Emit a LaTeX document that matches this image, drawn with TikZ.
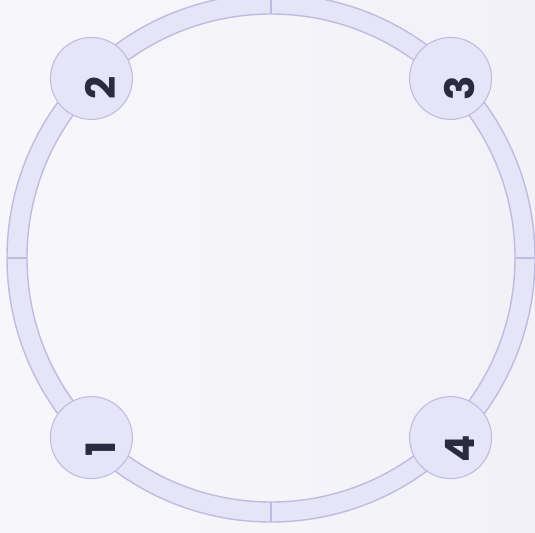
\documentclass[tikz,border=0pt]{standalone}
\usepackage{fontspec}
\setmainfont{Poppins}
\usepackage{tikz}
\definecolor{bgleft}{HTML}{F7F7FB}
\definecolor{bgright}{HTML}{F1F1F7}
\definecolor{ringfill}{HTML}{E6E4F7}
\definecolor{ringline}{HTML}{BFBBE2}
\definecolor{numcol}{HTML}{2B2A40}
\tikzset{
  hub/.style={circle,draw=ringline,fill=ringfill,line width=0.6pt,minimum size=82*0.02cm,inner sep=0pt},
  num/.style={text=numcol,font=\bfseries\fontsize{23}{23}\selectfont,rotate=90,inner sep=0pt}
}
\begin{document}
\begin{tikzpicture}[x=0.02cm,y=-0.02cm]
% background
\shade[left color=bgleft,right color=bgright] (0,0) rectangle (535,532);
\useasboundingbox (0,0) rectangle (535,532);
% ring
\coordinate (c) at (271,258);
\fill[ringfill,even odd rule] (c) circle (264) (c) circle (244);
\draw[ringline,line width=0.8pt] (c) circle (264);
\draw[ringline,line width=0.8pt] (c) circle (244);
\foreach \a in {0,90,180,270}
  \draw[ringline,line width=0.8pt] ([shift={(\a:244)}]c) -- ([shift={(\a:264)}]c);
% Node 1
\node[hub] (p1) at ([shift={(135:254)}]c) {};
\node[num] (t1) at ([shift={(9,11)}]p1.center) {1};
% Node 2
\node[hub] (p2) at ([shift={(225:254)}]c) {};
\node[num] (t2) at ([shift={(9,10)}]p2.center) {2};
% Node 3
\node[hub] (p3) at ([shift={(315:254)}]c) {};
\node[num] (t3) at ([shift={(9,10)}]p3.center) {3};
% Node 4
\node[hub] (p4) at ([shift={(45:254)}]c) {};
\node[num] (t4) at ([shift={(9,11)}]p4.center) {4};
\end{tikzpicture}
\end{document}
